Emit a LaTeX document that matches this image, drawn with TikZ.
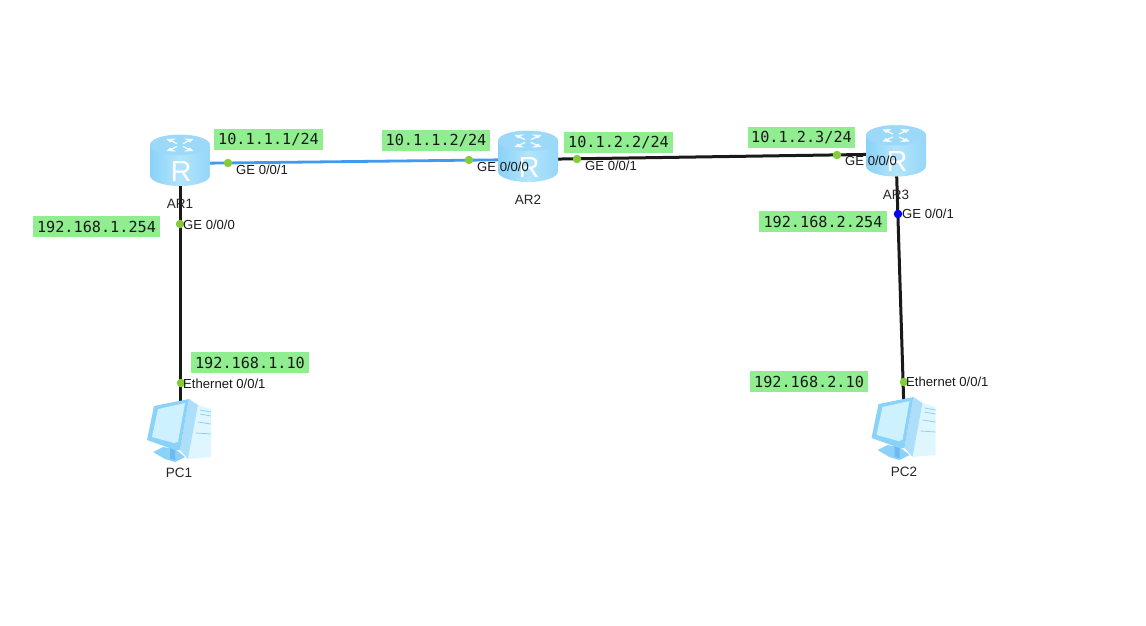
\documentclass[tikz,border=0pt]{standalone}
\usepackage{fontspec}
\setmainfont{Liberation Sans}
\newfontfamily\addrfont{DejaVu Sans Mono}
\usetikzlibrary{positioning,calc}
\definecolor{addrgreen}{HTML}{90EE90}
\definecolor{portgreen}{HTML}{84CC3A}
\definecolor{wireblue}{HTML}{3F9BEF}
\definecolor{iconlight}{HTML}{CDF1FF}
\definecolor{iconmid}{HTML}{8AD2F8}
\definecolor{icondark}{HTML}{6FB8F2}
\tikzset{
    wire/.style={line width=3pt, black!90},
    bluewire/.style={line width=2.8pt, wireblue},
    port/.style={circle, fill=portgreen, inner sep=0pt, minimum size=8.5pt},
    portlbl/.style={anchor=west, inner sep=0pt, font=\fontsize{13.1}{14}\selectfont, text=black!90},
    addr/.style={fill=addrgreen, inner sep=0pt, minimum height=21pt, font=\addrfont\fontsize{15.2}{17}\selectfont, text=black!90},
    caption/.style={inner sep=0pt, font=\fontsize{13.5}{15}\selectfont, text=black!85},
    router/.pic={
        \shade[left color=iconmid, right color=iconmid!90!white, middle color=iconlight!60!iconmid]
            (-30,-18.5) -- (-30,12) arc[start angle=180, end angle=360, x radius=30pt, y radius=10.5pt]
            -- (30,-18.5) arc[start angle=0, end angle=180, x radius=30pt, y radius=10.5pt] -- cycle;
        \fill[iconmid!85!white] (0,-18.5) ellipse[x radius=30pt, y radius=10pt];
        \foreach \a in {45,135,225,315} {
            \draw[white, line width=1.3pt, opacity=.85]
                ($(0,-18.5)+(\a:4pt and 2pt)$) -- ($(0,-18.5)+(\a:13pt and 6pt)$);
            \fill[white, opacity=.85] ($(0,-18.5)+(\a+24:11pt and 7pt)$) -- ($(0,-18.5)+(\a:19pt and 8.5pt)$) -- ($(0,-18.5)+(\a-24:11pt and 7pt)$) -- cycle;
        }
        \node[text=white, inner sep=0pt, font=\fontsize{29}{29}\selectfont] (-letter) at (1,8) {R};
    },
    pc/.pic={
        % tower
        \fill[iconlight!65!white] (18,-25) -- (31,-21) -- (31,27) -- (8,29) -- cycle;
        \fill[iconmid!70!white] (9,-31) -- (18,-25) -- (8,29) -- (0,20) -- cycle;
        \draw[iconmid, line width=.8pt] (20,-20) -- (31,-18) (20,-16) -- (31,-14) (18,-8) -- (31,-6) (16,3) -- (31,4);
        % foot of the screen
        \fill[iconmid] (-27,22) -- (-17,17) -- (-5,19) -- (5,27) -- (-5,32) -- (-15,29) -- cycle;
        \fill[icondark] (-10,18) -- (-5,18) -- (-5,30) -- (-10,29) -- cycle;
        % screen
        \fill[iconmid] (-33,10) -- (-26,-24) -- (9,-31) -- (0,20) -- (-5,20) -- cycle;
        \fill[iconlight] (-28,7) -- (-22,-21) -- (5,-27) -- (-2,12) -- (-6,13) -- cycle;
    }
}
\begin{document}
\begin{tikzpicture}[x=1pt, y=-1pt]
\useasboundingbox (0,0) rectangle (1146,625);

% devices
\coordinate (ar1) at (180,163.5);
\coordinate (ar2) at (528,159.5);
\coordinate (ar3) at (896,154);
\coordinate (pc1) at (180,430);
\coordinate (pc2) at (904.5,428);

% links
\draw[bluewire] (ar1) -- (ar2);
\draw[wire] (ar2) -- (ar3);
\draw[wire] (ar1) -- (pc1);
\draw[wire] (ar3) -- (pc2);

\pic at (ar1) {router};
\pic at (ar2) {router};
\pic at (ar3) {router};
\pic at (pc1) {pc};
\pic at (pc2) {pc};

\node[caption] (ar1lbl) at (180,204) {AR1};
\node[caption] (ar2lbl) at (528,200) {AR2};
\node[caption] (ar3lbl) at (896,195) {AR3};
\node[caption] (pc1lbl) at (179,473) {PC1};
\node[caption] (pc2lbl) at (904,472) {PC2};

% ports
\node[port] (p1) at (228,163) {};
\node[port] (p2) at (180,224) {};
\node[port] (p3) at (469,160) {};
\node[port] (p4) at (577,159) {};
\node[port] (p5) at (837,155) {};
\node[port, fill=blue] (p6) at (898,214) {};
\node[port] (p7) at (181,383) {};
\node[port] (p8) at (904,382) {};

\node[portlbl] (p1lbl) at (236,170) {GE 0/0/1};
\node[portlbl] (p2lbl) at (183,225) {GE 0/0/0};
\node[portlbl] (p3lbl) at (477,167) {GE 0/0/0};
\node[portlbl] (p4lbl) at (585,166) {GE 0/0/1};
\node[portlbl] (p5lbl) at (845,161) {GE 0/0/0};
\node[portlbl] (p6lbl) at (902,214) {GE 0/0/1};
\node[portlbl] (p7lbl) at (183,384) {Ethernet 0/0/1};
\node[portlbl] (p8lbl) at (906,382) {Ethernet 0/0/1};

% addresses
\node[addr, minimum width=109pt] (a1) at (268.5,139.5) {10.1.1.1/24};
\node[addr, minimum width=108pt] (a2) at (436,140.5) {10.1.1.2/24};
\node[addr, minimum width=109pt] (a3) at (618.5,142.5) {10.1.2.2/24};
\node[addr, minimum width=107pt] (a4) at (801.5,137.5) {10.1.2.3/24};
\node[addr, minimum width=127pt] (a5) at (96.5,226.5) {192.168.1.254};
\node[addr, minimum width=128pt] (a6) at (823,221.5) {192.168.2.254};
\node[addr, minimum width=118pt] (a7) at (250,362.5) {192.168.1.10};
\node[addr, minimum width=118pt] (a8) at (809,381.5) {192.168.2.10};
\end{tikzpicture}
\end{document}
